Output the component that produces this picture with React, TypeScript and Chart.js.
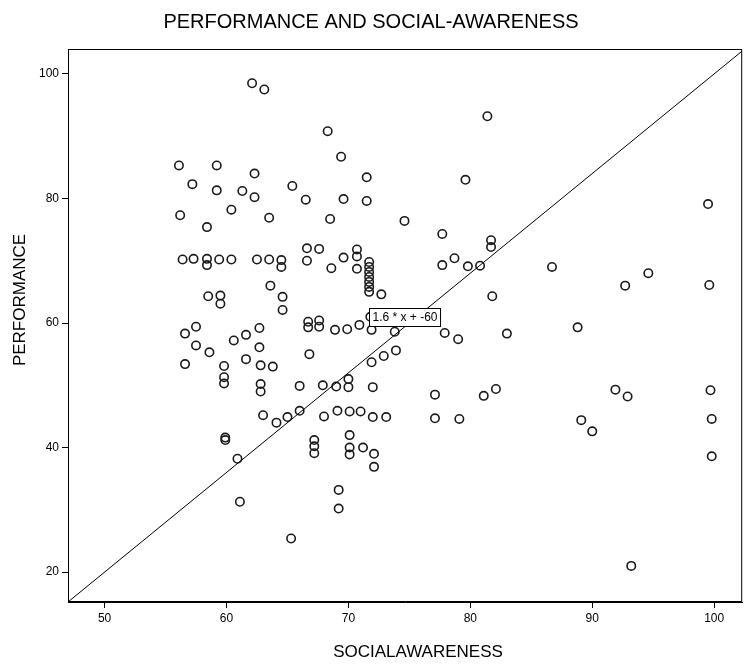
import React, { useEffect, useRef } from "react";
import { Chart, registerables } from "chart.js";

Chart.register(...registerables);

// ---- data ----
const socialAwareness = [
  62.1, 63.1, 68.3, 56.1, 59.2, 69.4, 62.3, 57.2, 71.5, 59.2, 61.3, 62.3, 65.4,
  56.2, 60.4, 66.5, 69.6, 71.5, 58.4, 63.5, 68.5,
  56.4, 57.3, 58.4, 58.4, 59.4, 60.4, 62.5, 63.5, 64.5, 64.5, 66.6, 67.6, 66.6,
  68.6, 69.6, 70.7, 70.7, 70.7,
  71.7, 71.7, 71.7, 71.7, 71.7, 71.7, 71.7,
  72.7, 58.5, 59.5, 59.5, 63.6, 64.6, 64.6,
  81.4, 79.6, 74.6, 99.5, 77.7, 81.7, 81.7, 77.7, 78.7, 79.8, 80.8, 86.7, 92.7,
  94.6, 81.8, 99.6,
  56.6, 57.5, 57.5, 58.6, 56.6, 60.6, 61.6, 62.7, 62.7, 61.6, 62.8, 63.8, 59.8,
  59.8, 59.8, 62.8, 62.8, 66.7, 67.6, 66.7, 67.6, 68.9, 69.9, 70.9, 71.8, 71.9,
  66.8, 73.8, 77.9, 79.0, 83.0, 88.8, 71.9, 72.9, 73.9,
  66.0, 67.9, 69.0, 70.0, 70.0, 72.0, 77.1, 81.1, 82.1, 91.9, 92.9, 99.7,
  63.0, 64.1, 65.0, 66.0, 68.0, 69.1, 70.1, 71.0, 72.0, 73.1, 77.1, 79.1, 89.1,
  90.0, 99.8,
  59.9, 59.9, 60.9, 67.2, 67.2, 67.2, 70.1, 70.1, 70.1, 71.2, 72.1, 72.1, 99.8,
  61.1, 69.2, 69.2, 65.3, 93.2,
];

const performance = [
  98.5, 97.5, 90.8, 85.3, 85.3, 86.7, 84.0, 82.3, 83.4, 81.3, 81.2, 80.2, 82.0,
  77.3, 78.2, 79.8, 79.9, 79.6, 75.4, 76.9, 76.7,
  70.2, 70.3, 70.3, 69.3, 70.2, 70.2, 70.2, 70.2, 70.1, 69.0, 72.0, 71.9, 70.0,
  68.8, 70.5, 71.8, 70.7, 68.7,
  69.8, 69.0, 68.2, 67.4, 66.6, 65.8, 65.0,
  64.6, 64.3, 64.4, 63.1, 66.0, 64.2, 62.1,
  93.2, 83.0, 76.4, 79.1, 74.3, 73.3, 72.2, 69.3, 70.4, 69.1, 69.2, 69.0, 66.0,
  68.0, 64.3, 66.1,
  58.3, 59.4, 56.4, 55.3, 53.4, 57.2, 58.1, 59.2, 56.1, 54.2, 53.2, 53.0, 53.1,
  51.3, 50.3, 50.2, 49.0, 60.2, 60.4, 59.3, 59.4, 58.9, 59.0, 59.7, 61.0, 58.9,
  55.0, 58.6, 58.4, 57.4, 58.3, 59.3, 53.7, 54.7, 55.6,
  49.9, 50.0, 49.8, 51.0, 49.7, 49.7, 48.5, 48.3, 49.4, 49.3, 48.2, 49.2,
  45.2, 44.0, 44.9, 45.9, 45.0, 45.9, 45.8, 45.8, 44.9, 44.9, 44.7, 44.6, 44.4,
  42.6, 44.6,
  41.2, 41.6, 38.2, 41.2, 40.2, 39.1, 42.0, 40.0, 38.9, 40.0, 39.0, 36.9, 38.6,
  31.3, 33.2, 30.2, 25.4, 21.0,
];

const X_TICKS = [50, 60, 70, 80, 90, 100];
const Y_TICKS = [20, 40, 60, 80, 100];

const FIT_SLOPE = 1.6;
const FIT_INTERCEPT = -60;
const FIT_LABEL = "1.6 * x + -60";
const FIT_LABEL_AT = { x: 74.6, y: 61.0 };

const TITLE = "PERFORMANCE AND SOCIAL-AWARENESS";
const X_TITLE = "SOCIALAWARENESS";
const Y_TITLE = "PERFORMANCE";

const X_MIN = 47;
const X_MAX = 102.3;
const Y_MIN = 15.2;
const Y_MAX = 104;

const FONT = "'Liberation Sans', Arial, Helvetica, sans-serif";

const decorPlugin = {
  id: "decor",
  afterDatasetsDraw(chart: any) {
    const { ctx, chartArea: a, scales } = chart;
    const x = scales.x;
    const y = scales.y;
    ctx.save();
    // frame
    ctx.strokeStyle = "#000";
    ctx.lineWidth = 1;
    ctx.strokeRect(a.left + 0.5, a.top + 0.5, a.right - a.left - 1, a.bottom - a.top - 1);

    // equation label box
    ctx.font = `12px ${FONT}`;
    const tw = ctx.measureText(FIT_LABEL).width;
    const cx = x.getPixelForValue(FIT_LABEL_AT.x);
    const cy = y.getPixelForValue(FIT_LABEL_AT.y);
    const w = tw + 6;
    const h = 18;
    const bx = Math.round(cx - w / 2) + 0.5;
    const by = Math.round(cy - h / 2) + 0.5;
    ctx.fillStyle = "#fff";
    ctx.fillRect(bx, by, w, h);
    ctx.strokeStyle = "#000";
    ctx.lineWidth = 1;
    ctx.strokeRect(bx, by, w, h);
    ctx.fillStyle = "#000";
    ctx.textAlign = "left";
    ctx.textBaseline = "middle";
    ctx.fillText(FIT_LABEL, bx + 3, by + h / 2 + 0.5);
    ctx.restore();
  },
  afterDraw(chart: any) {
    const { ctx } = chart;
    ctx.save();
    ctx.fillStyle = "#000";
    ctx.textAlign = "center";
    ctx.textBaseline = "middle";
    ctx.font = `20px ${FONT}`;
    ctx.fillText(TITLE, 371, 22);
    ctx.font = `17px ${FONT}`;
    ctx.fillText(X_TITLE, 418, 652);
    ctx.translate(20, 300);
    ctx.rotate(-Math.PI / 2);
    ctx.fillText(Y_TITLE, 0, 0);
    ctx.restore();
  },
};

export default function App() {
  const canvasRef = useRef<HTMLCanvasElement | null>(null);

  useEffect(() => {
    if (!canvasRef.current) return;
    const points = socialAwareness.map((sx, i) => ({ x: sx, y: performance[i] }));
    const fitLine = [X_MIN, X_MAX].map((vx) => ({ x: vx, y: FIT_SLOPE * vx + FIT_INTERCEPT }));

    const chart = new Chart(canvasRef.current, {
      type: "scatter",
      data: {
        datasets: [
          {
            type: "line",
            data: fitLine,
            borderColor: "#000",
            borderWidth: 1,
            pointRadius: 0,
            fill: false,
          } as any,
          {
            data: points,
            pointRadius: 4.2,
            pointBorderWidth: 1.6,
            borderColor: "#1a1a1a",
            backgroundColor: "rgba(0,0,0,0)",
            pointStyle: "circle",
          },
        ],
      },
      options: {
        responsive: false,
        animation: false,
        layout: { padding: { top: 49, right: 2, left: 0, bottom: 0 } },
        plugins: {
          legend: { display: false },
          tooltip: { enabled: false },
          title: { display: false },
        },
        scales: {
          x: {
            type: "linear",
            min: X_MIN,
            max: X_MAX,
            afterBuildTicks: (s: any) => {
              s.ticks = X_TICKS.map((v) => ({ value: v }));
            },
            afterFit: (s: any) => {
              s.height = 68;
            },
            grid: { display: true, drawOnChartArea: false, drawTicks: true, tickLength: 6, color: "#000" },
            border: { display: true, color: "#000" },
            ticks: {
              color: "#000",
              font: { size: 12, family: FONT },
              padding: 3,
              maxRotation: 0,
              autoSkip: false,
            },
          },
          y: {
            type: "linear",
            min: Y_MIN,
            max: Y_MAX,
            afterBuildTicks: (s: any) => {
              s.ticks = Y_TICKS.map((v) => ({ value: v }));
            },
            afterFit: (s: any) => {
              s.width = 68;
            },
            grid: { display: true, drawOnChartArea: false, drawTicks: true, tickLength: 6, color: "#000" },
            border: { display: true, color: "#000" },
            ticks: {
              color: "#000",
              font: { size: 12, family: FONT },
              padding: 3,
              autoSkip: false,
            },
          },
        },
      },
      plugins: [decorPlugin],
    });
    return () => chart.destroy();
  }, []);

  return (
    <div style={{ position: "absolute", left: 0, top: 0, width: 748, height: 670, background: "#fff" }}>
      <canvas ref={canvasRef} width={748} height={670} style={{ display: "block" }} />
    </div>
  );
}
